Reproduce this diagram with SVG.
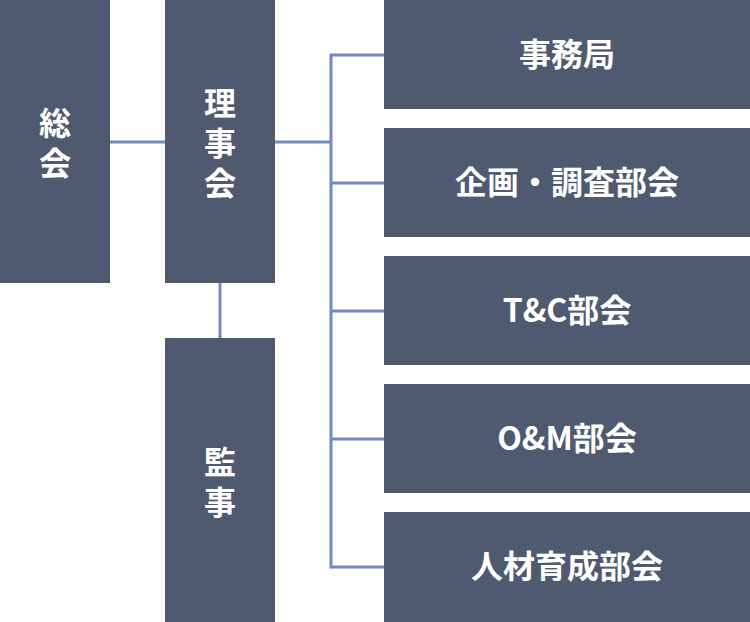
<svg xmlns="http://www.w3.org/2000/svg" width="750" height="622" viewBox="0 0 750 622">
<style>
.box{fill:#4f5a70;}
.t{fill:#ffffff;font-family:"Noto Sans CJK JP","Noto Sans",sans-serif;font-weight:700;font-size:32px;text-anchor:middle;}
.v{writing-mode:vertical-rl;text-orientation:upright;letter-spacing:8px;}
.c{stroke:#6f8bbf;stroke-width:3;fill:none;}
</style>
<rect width="750" height="622" fill="#ffffff"/>
<g id="connectors">
<line class="c" x1="110" y1="142" x2="165" y2="142"/>
<line class="c" x1="275" y1="142" x2="331" y2="142"/>
<line class="c" x1="220" y1="283" x2="220" y2="338"/>
<line class="c" x1="331" y1="53.5" x2="331" y2="568.5"/>
<line class="c" x1="331" y1="55" x2="384" y2="55"/>
<line class="c" x1="331" y1="183" x2="384" y2="183"/>
<line class="c" x1="331" y1="311" x2="384" y2="311"/>
<line class="c" x1="331" y1="439" x2="384" y2="439"/>
<line class="c" x1="331" y1="567" x2="384" y2="567"/>
</g>
<g id="soukai">
<rect class="box" x="0" y="0" width="110" height="283"/>
<text class="t v" x="55" y="147.3">総会</text>
</g>
<g id="rijikai">
<rect class="box" x="165" y="0" width="110" height="283"/>
<text class="t v" x="220" y="147.3">理事会</text>
</g>
<g id="kanji">
<rect class="box" x="165" y="338" width="110" height="284"/>
<text class="t v" x="220" y="486.3">監事</text>
</g>
<g id="jimukyoku">
<rect class="box" x="384" y="0" width="366" height="109"/>
<text class="t" x="567" y="65.5">事務局</text>
</g>
<g id="kikaku">
<rect class="box" x="384" y="128" width="366" height="109"/>
<text class="t" x="567" y="193.5">企画・調査部会</text>
</g>
<g id="tc">
<rect class="box" x="384" y="256" width="366" height="109"/>
<text class="t" x="567" y="321.5">T&amp;C部会</text>
</g>
<g id="om">
<rect class="box" x="384" y="384" width="366" height="109"/>
<text class="t" x="567" y="449.5">O&amp;M部会</text>
</g>
<g id="jinzai">
<rect class="box" x="384" y="512" width="366" height="110"/>
<text class="t" x="567" y="577.5">人材育成部会</text>
</g>
</svg>
